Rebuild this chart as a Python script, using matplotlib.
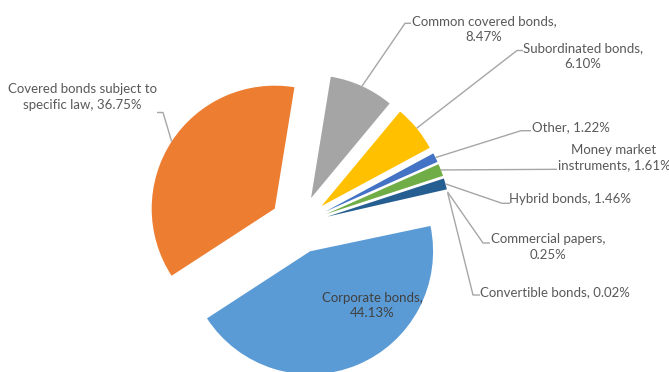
import numpy as np
import matplotlib
matplotlib.use("Agg")
import matplotlib.pyplot as plt

# ---- data ----
categories = ["Corporate bonds", "Covered bonds subject to specific law", "Common covered bonds",
              "Subordinated bonds", "Other", "Money market instruments", "Hybrid bonds",
              "Commercial papers", "Convertible bonds"]
values = [44.13, 36.75, 8.47, 6.10, 1.22, 1.61, 1.46, 0.25, 0.02]
label_texts = ["Corporate bonds,\n44.13%", "Covered bonds subject to\nspecific law, 36.75%",
               "Common covered bonds,\n8.47%", "Subordinated bonds,\n6.10%", "Other, 1.22%",
               "Money market\ninstruments, 1.61%", "Hybrid bonds, 1.46%",
               "Commercial papers,\n0.25%", "Convertible bonds, 0.02%"]
colors = ["#5B9BD5", "#ED7D31", "#A5A5A5", "#FFC000", "#4472C4", "#70AD47",
          "#255E91", "#FFFFFF", "#FFFFFF"]

W, H = 669, 372
fig = plt.figure(figsize=(W / 100, H / 100), dpi=100)
ax = fig.add_axes([0, 0, 1, 1])

center = (299, H - 224.5)
radius = 123
expl = 29
wedges, _ = ax.pie(values, colors=colors, startangle=11.9, counterclock=False,
                   center=center, radius=radius, explode=[expl] * len(values),
                   wedgeprops=dict(linewidth=0))
ax.set_xlim(0, W)
ax.set_ylim(0, H)
ax.set_aspect("equal")
ax.axis("off")

FONT = "Lato"
FS = 9.5
TC = "#595959"
LC = "#A6A6A6"
LS = 1.38


def anchor(w):
    th = np.deg2rad((w.theta1 + w.theta2) / 2)
    cx, cy = w.center
    return cx + w.r * np.cos(th), cy + w.r * np.sin(th)


# label layout: (text center x, text center y in px from top, stub start, stub end, stub y px)
layout = {
    1: (82, 96.7, 157, 163, 112.5),
    2: (484, 29, 411, 405, 23.3),
    3: (583, 56.3, 523, 517, 50.5),
    4: (570.5, 127.3, 531, 521, 130.7),
    5: (614, 157.6, 557, 557, 169.3),
    6: (570, 199.3, 510, 502, 203.3),
    7: (548, 247, 490, 483, 243),
    8: (555, 291.7, 480, 473, 295),
}

for i, (tx, ty, s0, s1, sy) in layout.items():
    ax.text(tx, H - ty, label_texts[i], ha="center", va="center", fontsize=FS,
            family=FONT, color=TC, linespacing=LS)
    axp, ayp = anchor(wedges[i])
    ax.plot([s0, s1, axp], [H - sy, H - sy, ayp], color=LC, lw=1.0,
            solid_capstyle="butt")

# inside label for corporate bonds
ax.text(372, H - 305.5, label_texts[0], ha="center", va="center", fontsize=FS,
        family=FONT, color="#404040", linespacing=LS)

fig.savefig("out.png", dpi=100)
